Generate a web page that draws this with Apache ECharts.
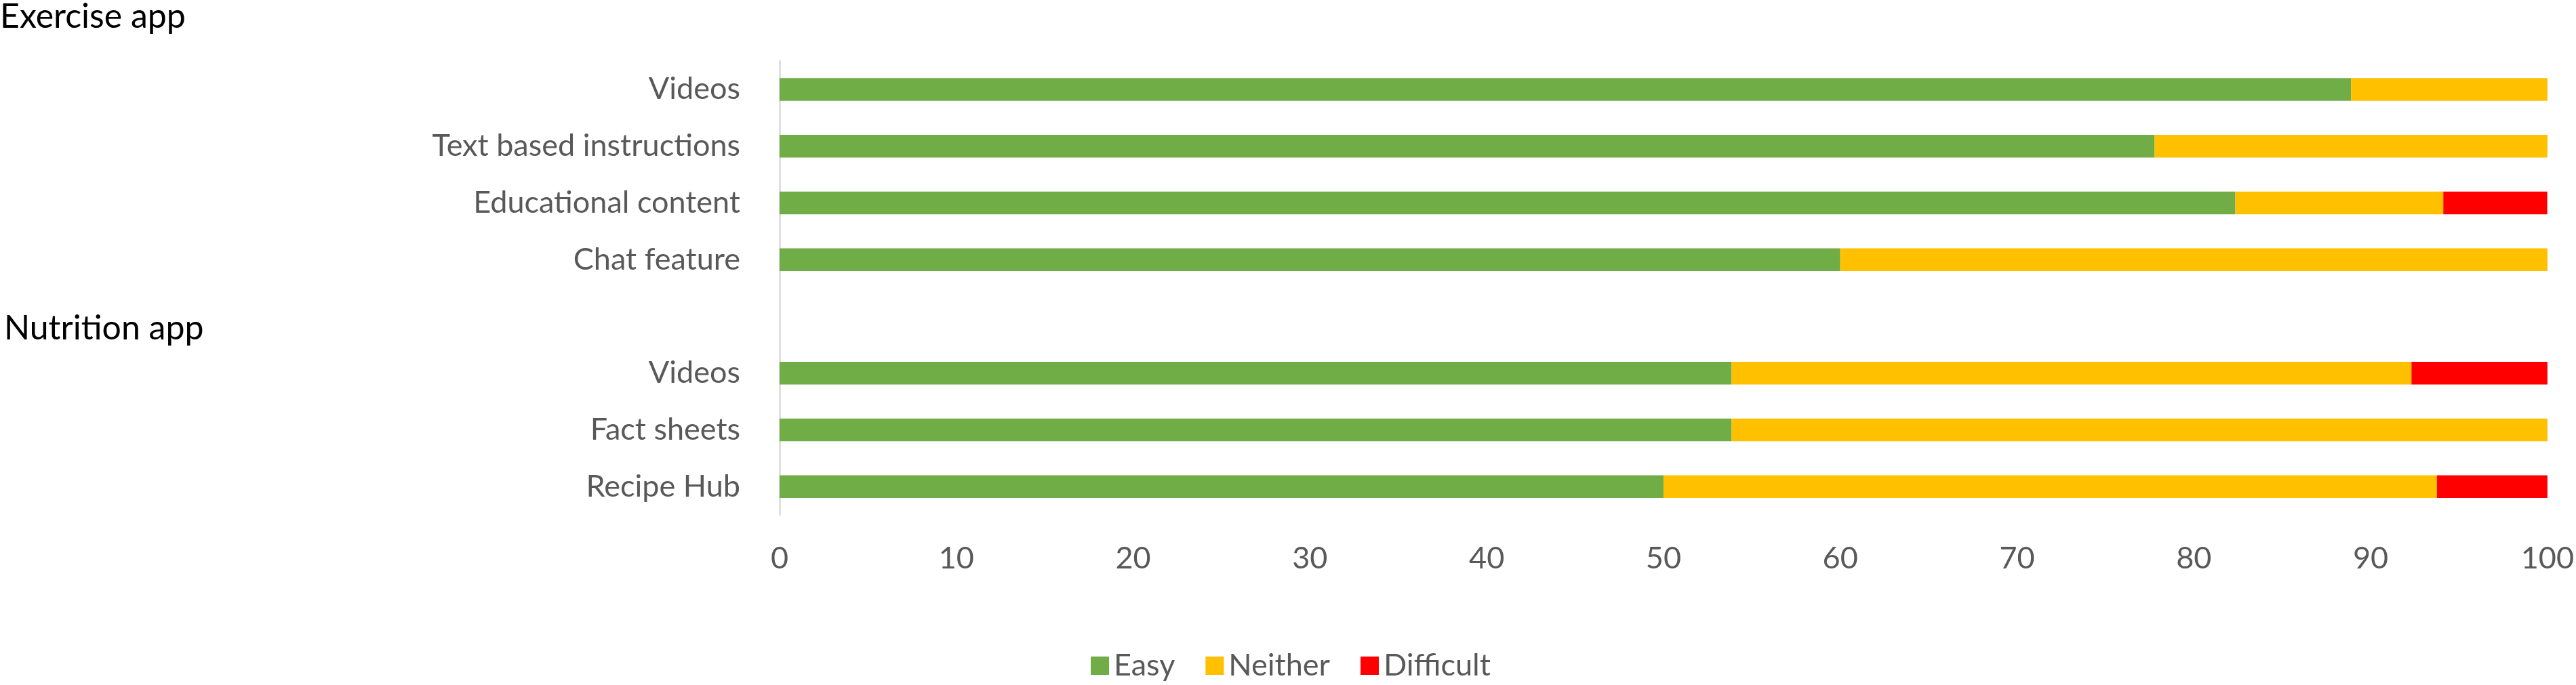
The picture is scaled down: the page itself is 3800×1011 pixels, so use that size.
<!DOCTYPE html>
<html>
<head>
<meta charset="utf-8">
<script src="https://cdn.jsdelivr.net/npm/echarts@6/dist/echarts.min.js"></script>
<style>
  html, body { margin: 0; padding: 0; background: #fff; }
  #chart { width: 3800px; height: 1011px; }
</style>
</head>
<body>
<div id="chart"></div>
<script>
// categories (top to bottom), blank slot separates the two apps
const categories = ['Videos', 'Text based instructions', 'Educational content', 'Chat feature', '', 'Videos', 'Fact sheets', 'Recipe Hub']
const groupTitles = ['Exercise app', 'Nutrition app']
const seriesNames = ['Easy', 'Neither', 'Difficult']

// percentages
const easy = [88.89, 77.78, 82.35, 60, null, 53.85, 53.85, 50]
const neither = [11.11, 22.22, 11.76, 40, null, 38.46, 46.15, 43.75]
const difficult = [0, 0, 5.88, 0, null, 7.69, 0, 6.25]

const xTicks = [0, 10, 20, 30, 40, 50, 60, 70, 80, 90, 100]

const colors = ['#70AD47', '#FFC000', '#FF0000']
const font = 'Lato, "Open Sans", sans-serif'

const chart = echarts.init(document.getElementById('chart'))

const option = {
    animation: false,
    backgroundColor: '#ffffff',
    textStyle: { fontFamily: font },
    title: [
        {
            text: groupTitles[0],
            left: 0,
            top: 0,
            padding: 0,
            textStyle: { fontFamily: font, fontSize: 50, fontWeight: 'normal', color: '#000000' }
        },
        {
            text: groupTitles[1],
            left: 6,
            top: 460,
            padding: 0,
            textStyle: { fontFamily: font, fontSize: 50, fontWeight: 'normal', color: '#000000' }
        }
    ],
    legend: {
        data: seriesNames,
        left: 1609,
        bottom: 6,
        padding: 0,
        icon: 'rect',
        itemWidth: 27,
        itemHeight: 27,
        itemGap: 45,
        textStyle: { fontFamily: font, fontSize: 45, lineHeight: 45, color: '#595959', padding: [0, 0, 0, 2] }
    },
    grid: {
        left: 1150,
        right: 41,
        top: 90,
        bottom: 251,
        containLabel: false
    },
    xAxis: {
        type: 'value',
        min: xTicks[0],
        max: xTicks[xTicks.length - 1],
        interval: 10,
        axisLine: { show: false },
        axisTick: { show: false },
        splitLine: { show: false },
        axisLabel: {
            margin: 42,
            fontFamily: font,
            fontSize: 45,
            color: '#595959'
        }
    },
    yAxis: {
        type: 'category',
        inverse: true,
        data: categories,
        axisLine: { show: true, lineStyle: { color: '#D9D9D9', width: 2.5 } },
        axisTick: { show: false },
        axisLabel: {
            margin: 58,
            fontFamily: font,
            fontSize: 45,
            color: '#595959'
        }
    },
    series: seriesNames.map((name, i) => ({
        name: name,
        type: 'bar',
        stack: 'total',
        barWidth: '40%',
        data: [easy, neither, difficult][i],
        itemStyle: { color: colors[i] }
    }))
}

chart.setOption(option)
</script>
</body>
</html>
